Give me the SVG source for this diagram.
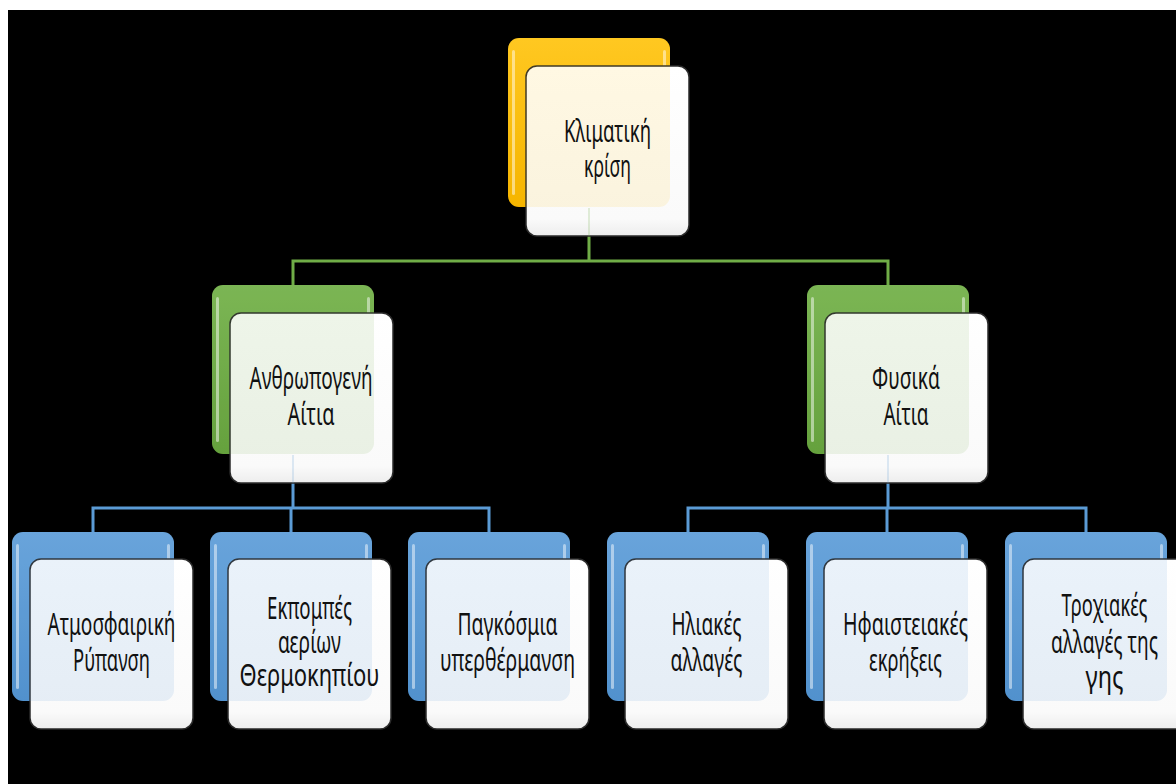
<svg xmlns="http://www.w3.org/2000/svg" width="1176" height="784" viewBox="0 0 1176 784">
<defs>
<linearGradient id="gY" x1="0" y1="0" x2="0" y2="1"><stop offset="0" stop-color="#FFC925"/><stop offset="1" stop-color="#F5B400"/></linearGradient>
<linearGradient id="gG" x1="0" y1="0" x2="0" y2="1"><stop offset="0" stop-color="#7DB756"/><stop offset="1" stop-color="#64A03C"/></linearGradient>
<linearGradient id="gB" x1="0" y1="0" x2="0" y2="1"><stop offset="0" stop-color="#6BA6DC"/><stop offset="1" stop-color="#5090CC"/></linearGradient>
<linearGradient id="gF" x1="0" y1="0" x2="0" y2="1"><stop offset="0" stop-color="#FFFFFF"/><stop offset="0.9" stop-color="#FAFAFA"/><stop offset="1" stop-color="#EDEDED"/></linearGradient>
</defs>
<style>
.back{stroke:none}
.hl{fill:#FFFFFF;opacity:0.55}
.front{fill:url(#gF);stroke:#2A2A2A;stroke-width:1.5}
.tY{fill:#FFC000;opacity:0.11}
.tG{fill:#70AD47;opacity:0.12}
.tB{fill:#5B9BD5;opacity:0.13}
.lbl{font-family:"Noto Sans","Open Sans","DejaVu Sans",sans-serif;font-size:30px;fill:#111111;text-anchor:middle}
.cg{stroke:#70AD47;stroke-width:3;fill:none}
.cb{stroke:#5B9BD5;stroke-width:3;fill:none}
</style>
<rect x="0" y="0" width="1176" height="784" fill="#FFFFFF"/>
<rect x="8" y="10" width="1168" height="774" fill="#000000"/>

<g id="connectors">
<path class="cg" d="M589,236 V261 M293,261 H888 M293,259.5 V285 M888,259.5 V285"/>
<path class="cb" d="M293,483 V508 M93,508 H489 M93,506.5 V532 M291,506.5 V532 M489,506.5 V532"/>
<path class="cb" d="M888,483 V508 M688,508 H1086 M688,506.5 V532 M887,506.5 V532 M1086,506.5 V532"/>
</g>

<g id="n-klimatiki">
<rect class="back" x="508" y="38" width="162" height="169" rx="11" fill="url(#gY)"/>
<rect class="hl" x="512" y="50" width="3" height="145" rx="1.5"/>
<rect class="hl" x="663" y="50" width="3" height="30" rx="1.5"/>
<rect class="front" x="526" y="66" width="163" height="170" rx="11"/>
<rect class="tY" x="508" y="38" width="162" height="169" rx="11"/>
<line x1="589" y1="208" x2="589" y2="236" stroke="#70AD47" stroke-width="1.5" opacity="0.25"/>
<text class="lbl" x="607.5" y="142" textLength="87" lengthAdjust="spacingAndGlyphs">Κλιματική</text>
<text class="lbl" x="607.5" y="177" textLength="47" lengthAdjust="spacingAndGlyphs">κρίση</text>
</g>

<g id="n-anthropogeni">
<rect class="back" x="212" y="285" width="162" height="169" rx="11" fill="url(#gG)"/>
<rect class="hl" x="216" y="297" width="3" height="145" rx="1.5"/>
<rect class="hl" x="367" y="297" width="3" height="30" rx="1.5"/>
<rect class="front" x="230" y="313" width="163" height="170" rx="11"/>
<rect class="tG" x="212" y="285" width="162" height="169" rx="11"/>
<line x1="293" y1="455" x2="293" y2="483" stroke="#5B9BD5" stroke-width="1.5" opacity="0.25"/>
<text class="lbl" x="311" y="389" textLength="123" lengthAdjust="spacingAndGlyphs">Ανθρωπογενή</text>
<text class="lbl" x="311" y="425" textLength="47" lengthAdjust="spacingAndGlyphs">Αίτια</text>
</g>

<g id="n-fysika">
<rect class="back" x="807" y="285" width="162" height="169" rx="11" fill="url(#gG)"/>
<rect class="hl" x="811" y="297" width="3" height="145" rx="1.5"/>
<rect class="hl" x="962" y="297" width="3" height="30" rx="1.5"/>
<rect class="front" x="825" y="313" width="163" height="170" rx="11"/>
<rect class="tG" x="807" y="285" width="162" height="169" rx="11"/>
<line x1="888" y1="455" x2="888" y2="483" stroke="#5B9BD5" stroke-width="1.5" opacity="0.25"/>
<text class="lbl" x="906" y="389" textLength="68" lengthAdjust="spacingAndGlyphs">Φυσικά</text>
<text class="lbl" x="906" y="425" textLength="45" lengthAdjust="spacingAndGlyphs">Αίτια</text>
</g>

<g id="n-atmosfairiki">
<rect class="back" x="12" y="532" width="162" height="169" rx="11" fill="url(#gB)"/>
<rect class="hl" x="16" y="544" width="3" height="145" rx="1.5"/>
<rect class="hl" x="167" y="544" width="3" height="30" rx="1.5"/>
<rect class="front" x="30" y="559" width="163" height="170" rx="11"/>
<rect class="tB" x="12" y="532" width="162" height="169" rx="11"/>
<text class="lbl" x="111.5" y="635" textLength="128" lengthAdjust="spacingAndGlyphs">Ατμοσφαιρική</text>
<text class="lbl" x="111.5" y="671" textLength="77" lengthAdjust="spacingAndGlyphs">Ρύπανση</text>
</g>

<g id="n-ekpompes">
<rect class="back" x="210" y="532" width="162" height="169" rx="11" fill="url(#gB)"/>
<rect class="hl" x="214" y="544" width="3" height="145" rx="1.5"/>
<rect class="hl" x="365" y="544" width="3" height="30" rx="1.5"/>
<rect class="front" x="228" y="559" width="163" height="170" rx="11"/>
<rect class="tB" x="210" y="532" width="162" height="169" rx="11"/>
<text class="lbl" x="309.5" y="619" textLength="85" lengthAdjust="spacingAndGlyphs">Εκπομπές</text>
<text class="lbl" x="309.5" y="653" textLength="63" lengthAdjust="spacingAndGlyphs">αερίων</text>
<text class="lbl" x="309.5" y="686" textLength="140" lengthAdjust="spacingAndGlyphs">Θερμοκηπίου</text>
</g>

<g id="n-pagkosmia">
<rect class="back" x="408" y="532" width="162" height="169" rx="11" fill="url(#gB)"/>
<rect class="hl" x="412" y="544" width="3" height="145" rx="1.5"/>
<rect class="hl" x="563" y="544" width="3" height="30" rx="1.5"/>
<rect class="front" x="426" y="559" width="163" height="170" rx="11"/>
<rect class="tB" x="408" y="532" width="162" height="169" rx="11"/>
<text class="lbl" x="507.5" y="635" textLength="100" lengthAdjust="spacingAndGlyphs">Παγκόσμια</text>
<text class="lbl" x="507.5" y="671" textLength="135" lengthAdjust="spacingAndGlyphs">υπερθέρμανση</text>
</g>

<g id="n-iliakes">
<rect class="back" x="607" y="532" width="162" height="169" rx="11" fill="url(#gB)"/>
<rect class="hl" x="611" y="544" width="3" height="145" rx="1.5"/>
<rect class="hl" x="762" y="544" width="3" height="30" rx="1.5"/>
<rect class="front" x="625" y="559" width="163" height="170" rx="11"/>
<rect class="tB" x="607" y="532" width="162" height="169" rx="11"/>
<text class="lbl" x="706.5" y="635" textLength="70" lengthAdjust="spacingAndGlyphs">Ηλιακές</text>
<text class="lbl" x="706.5" y="671" textLength="72" lengthAdjust="spacingAndGlyphs">αλλαγές</text>
</g>

<g id="n-ifaisteiakes">
<rect class="back" x="806" y="532" width="162" height="169" rx="11" fill="url(#gB)"/>
<rect class="hl" x="810" y="544" width="3" height="145" rx="1.5"/>
<rect class="hl" x="961" y="544" width="3" height="30" rx="1.5"/>
<rect class="front" x="824" y="559" width="163" height="170" rx="11"/>
<rect class="tB" x="806" y="532" width="162" height="169" rx="11"/>
<text class="lbl" x="905.5" y="635" textLength="125" lengthAdjust="spacingAndGlyphs">Ηφαιστειακές</text>
<text class="lbl" x="905.5" y="671" textLength="73" lengthAdjust="spacingAndGlyphs">εκρήξεις</text>
</g>

<g id="n-troxiakes">
<rect class="back" x="1005" y="532" width="162" height="169" rx="11" fill="url(#gB)"/>
<rect class="hl" x="1009" y="544" width="3" height="145" rx="1.5"/>
<rect class="hl" x="1160" y="544" width="3" height="30" rx="1.5"/>
<rect class="front" x="1023" y="559" width="163" height="170" rx="11"/>
<rect class="tB" x="1005" y="532" width="162" height="169" rx="11"/>
<text class="lbl" x="1104.5" y="616" textLength="86" lengthAdjust="spacingAndGlyphs">Τροχιακές</text>
<text class="lbl" x="1104.5" y="653" textLength="107" lengthAdjust="spacingAndGlyphs">αλλαγές της</text>
<text class="lbl" x="1104.5" y="688" textLength="38" lengthAdjust="spacingAndGlyphs">γης</text>
</g>
</svg>
